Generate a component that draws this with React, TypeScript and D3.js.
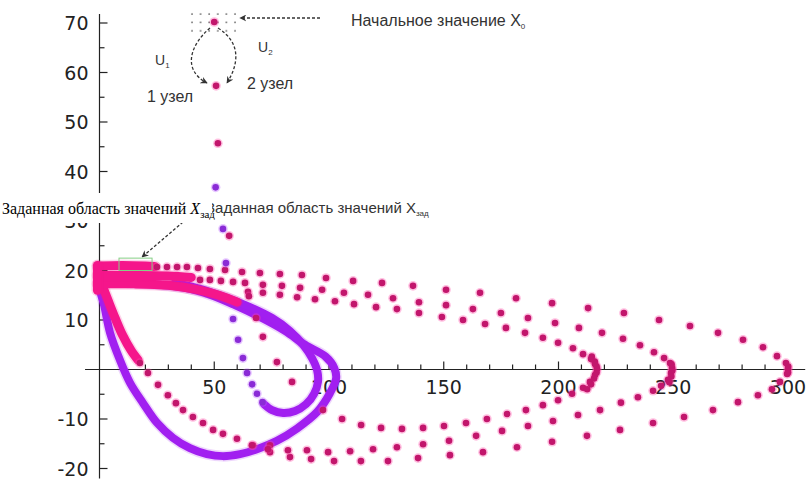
import React from "react";
import * as d3 from "d3";

type P = [number, number];

// ---- axis ticks ----
const xMajorTicks = [50, 100, 150, 200, 250, 300];
const xMinorTicks = [10, 20, 30, 40, 60, 70, 80, 90, 110, 120, 130, 140, 160, 170, 180, 190, 210, 220, 230, 240, 260, 270, 280, 290];
const yMajorTicks = [-20, -10, 10, 20, 30, 40, 50, 60, 70];
const yMinorTicks = [-15, -5, 5, 15, 25, 35, 45, 55, 65];
const xAxisExtent: P = [-6.3, 307.5];
const yAxisExtent: P = [-22, 71.8];

// ---- start value and first node ----
const startPoint: P[] = [[50.0, 70.2]];
const nodePoint: P[] = [[50.8, 57.3]];

// ---- dense limit-cycle bands ----
const outerLoop: P[] = [
  [0.2, 17.7], [13.3, 17.5], [26.4, 17.1], [37.3, 16.5], [48.1, 15.1], [59.0, 13.0], [69.9, 10.6],
  [80.8, 7.8], [89.5, 5.0], [98.5, 2.6], [102.3, 0.3], [103.1, -1.8], [100.4, -4.8], [94.8, -8.6],
  [86.1, -11.9], [77.3, -14.4], [68.6, -16.1], [61.2, -17.1], [53.8, -17.5], [46.8, -17.1],
  [39.4, -15.9], [32.0, -13.8], [25.1, -10.8], [19.0, -6.8], [13.3, -2.7], [8.9, 1.9], [4.6, 7.4],
  [2.0, 13.0], [0.2, 16.1],
];
const innerLoop: P[] = [
  [32.9, 17.5], [43.8, 16.3], [54.7, 14.6], [65.6, 12.6], [75.2, 10.4], [83.0, 7.8], [88.7, 5.0],
  [92.6, 2.3], [94.8, -0.1], [95.2, -2.5], [93.5, -4.9], [90.0, -7.0], [85.2, -8.4], [80.0, -8.8],
  [75.2, -8.2], [71.7, -7.0],
];
const pinkBandTop: P[] = [[-0.8, 20.9], [10, 21.0], [20, 20.9], [24, 20.8]];
const pinkBandMid: P[] = [[-0.8, 19.0], [15, 19.0], [30, 18.9], [40, 18.6]];
const pinkBandLow: P[] = [[-0.8, 17.3], [15, 17.3], [30, 17.0], [42, 16.2], [52, 15.0], [60, 13.6]];
const pinkBandLeft: P[] = [[-0.9, 21.0], [-0.9, 16.0]];
const pinkBandDiag: P[] = [[1.1, 17.1], [3.7, 14.0], [6.8, 10.4], [10.2, 6.8], [13.7, 3.9], [16.8, 1.9]];

// ---- sparse iterations ----
const purpleDots: P[] = [
  [50.6, 36.8], [53.8, 28.4], [55.1, 21.5], [58.2, 10.2], [60.4, 6.0], [62.5, 2.3], [64.3, -0.7],
  [66.5, -3.0], [68.6, -4.9], [71.0, -6.6],
];
const pinkColumn: P[] = [
  [51.6, 45.7], [56.5, 27.0], [65.1, 14.8], [68.2, 10.4], [71.2, 6.6], [77.3, 1.5], [83.9, -2.5],
];
const pinkTurn215: P[] = [
  [97.4, -8.2], [105.7, -10.0], [114.0, -11.2], [122.7, -11.8], [131.8, -12.0], [141.0, -11.8],
  [150.1, -11.4], [159.7, -10.8], [168.8, -10.0], [177.6, -9.0], [185.8, -8.2], [193.2, -7.2],
  [199.8, -6.2], [205.9, -4.9], [210.7, -3.7], [212.5, -4.0], [213.7, -2.5], [214.2, -3.0], [215.5, -1.8],
  [215.9, -1.1], [216.6, -0.6], [216.8, 0.1], [216.6, 0.6], [215.8, 1.6], [215.9, 1.1], [214.5, 2.6],
  [214.2, 2.1], [210.7, 3.1], [206.3, 4.3], [199.8, 5.4], [193.2, 6.4], [185.4, 7.4], [177.1, 8.4],
  [168.0, 9.2], [158.4, 10.0], [149.2, 10.6], [139.2, 11.4], [129.6, 12.2], [120.5, 12.6], [110.9, 13.2],
  [102.6, 13.8], [93.9, 14.2], [86.1, 14.6], [78.6, 15.1], [71.2, 15.5], [64.7, 15.7],
];
const pinkTurn250: P[] = [
  [43.8, 18.1], [48.1, 18.1], [52.9, 17.9], [58.2, 17.7], [63.4, 17.5], [71.2, 17.1], [79.5, 16.9],
  [87.4, 16.5], [97.0, 16.1], [106.5, 15.5], [117.0, 15.1], [127.9, 14.4], [139.2, 13.6], [151.0, 13.0],
  [162.7, 12.2], [174.9, 11.4], [186.7, 10.4], [198.5, 9.4], [208.9, 8.4], [218.95, 7.4], [228.1, 6.2],
  [235.5, 4.9], [241.6, 3.5], [246.0, 2.3], [248.6, 1.3], [249.3, 1.0], [249.5, 0.3], [249.6, -0.2],
  [249.0, -0.7], [249.2, -1.4], [247.7, -2.1], [248.3, -2.6], [244.7, -3.3], [241.2, -4.3], [234.6, -5.6],
  [227.2, -6.7], [218.1, -8.2], [208.5, -9.2], [197.6, -10.4], [186.7, -11.4], [175.4, -12.4],
  [164.1, -13.4], [152.3, -14.4], [141.0, -15.1], [129.6, -15.7], [119.2, -16.1], [109.2, -16.5],
  [99.6, -16.7], [90.4, -16.3], [82.1, -16.3], [74.3, -15.3], [66.9, -15.3],
];
const pinkTurn300: P[] = [
  [25.05, 20.7], [29.4, 20.7], [33.8, 20.7], [38.1, 20.7], [42.9, 20.5], [48.1, 20.3], [54.7, 20.1],
  [62.1, 19.7], [69.9, 19.5], [78.6, 19.3], [88.2, 19.1], [98.7, 18.5], [110.5, 17.9], [123.1, 17.5],
  [136.6, 16.9], [151.0, 16.1], [165.8, 15.5], [181.5, 14.4], [197.2, 13.4], [212.9, 12.4], [228.5, 11.4],
  [243.8, 10.0], [257.3, 8.8], [269.5, 7.4], [280.4, 6.0], [289.1, 4.5], [295.2, 2.7], [299.1, 1.3],
  [300.1, 0.6], [300.0, 0.1], [300.0, -0.6], [299.6, -0.9], [296.5, -2.5], [293.0, -4.0], [286.9, -5.2],
  [278.2, -6.6], [267.3, -8.2], [254.7, -9.6], [241.2, -10.8], [226.8, -12.2], [212.4, -13.4],
  [197.2, -14.6], [181.9, -15.7], [167.1, -16.7], [152.7, -17.3], [138.8, -17.9], [125.7, -18.5],
  [113.9, -18.5], [102.2, -18.5], [92.2, -18.1], [83.0, -17.7], [74.3, -16.7],
];
const pinkDiagDots: P[] = [
  [17.6, 1.3], [21.1, -0.7], [25.5, -3.1], [29.8, -5.2], [33.3, -6.8], [36.4, -8.2], [40.7, -9.6],
  [45.1, -10.8], [49.5, -12.2], [53.8, -13.0], [59.9, -14.0], [66.4, -15.3], [73.4, -16.1],
];

// target region box [x0, y0, x1, y1]
const targetBox = [8.5, 22.5, 22.9, 20.0];

const PINK_BAND = "#f5168b";
const PURPLE_BAND = "#a11ff0";
const PINK_CORE = "#c2166c";
const PINK_HALO = "#ff48a6";
const PURPLE_CORE = "#8a2bd6";
const PURPLE_HALO = "#b65cff";

export default function App() {
  const x = d3.scaleLinear().domain([0, 300]).range([99.5, 788]);
  const y = d3.scaleLinear().domain([0, 70]).range([369.5, 23]);
  const open = d3.line<P>().x((d) => x(d[0])).y((d) => y(d[1])).curve(d3.curveCatmullRom.alpha(0.5));
  const closed = d3.line<P>().x((d) => x(d[0])).y((d) => y(d[1])).curve(d3.curveCatmullRomClosed.alpha(0.5));

  const band = (d: string | null, color: string, w: number, key: string) => (
    <g key={key}>
      <path d={d ?? ""} fill="none" stroke={color} strokeOpacity={0.18} strokeWidth={w + 3} strokeLinecap="round" strokeLinejoin="round" />
      <path d={d ?? ""} fill="none" stroke={color} strokeWidth={w} strokeLinecap="round" strokeLinejoin="round" />
    </g>
  );

  const dots = (pts: P[], core: string, halo: string, key: string) => (
    <g key={key}>
      {pts.map((p, i) => (
        <circle key={"h" + i} cx={x(p[0])} cy={y(p[1])} r={4.8} fill={halo} fillOpacity={0.35} />
      ))}
      {pts.map((p, i) => (
        <circle key={"c" + i} cx={x(p[0])} cy={y(p[1])} r={3.3} fill={core} />
      ))}
    </g>
  );

  const tickFont = { fontFamily: "DejaVu Sans", fontSize: 19, fill: "#222" };
  const noteFont = { fontFamily: "Liberation Sans", fontSize: 16, fill: "#333" };

  return (
    <svg width={810} height={483} style={{ position: "absolute", left: 0, top: 0, background: "#fff" }}>
      <defs>
        <pattern id="dotgrid" width={8.6} height={8.4} patternUnits="userSpaceOnUse" x={190} y={12}>
          <circle cx={2} cy={2} r={0.8} fill="#555" />
        </pattern>
        <marker id="ah" viewBox="0 0 10 10" refX={9} refY={5} markerWidth={7} markerHeight={7} orient="auto-start-reverse" markerUnits="userSpaceOnUse">
          <path d="M0,0 L10,5 L0,10 L3,5 Z" fill="#333" />
        </marker>
      </defs>
      <rect width={810} height={483} fill="#fff" />

      {/* axes */}
      <g stroke="#222" strokeWidth={1.2}>
        <line x1={x(xAxisExtent[0])} x2={x(xAxisExtent[1])} y1={y(0)} y2={y(0)} />
        <line x1={x(0)} x2={x(0)} y1={y(yAxisExtent[0])} y2={y(yAxisExtent[1])} />
        {xMajorTicks.map((t) => <line key={"xM" + t} x1={x(t)} x2={x(t)} y1={y(0)} y2={y(0) - 8} />)}
        {xMinorTicks.map((t) => <line key={"xm" + t} x1={x(t)} x2={x(t)} y1={y(0)} y2={y(0) - 5} />)}
        {yMajorTicks.map((t) => <line key={"yM" + t} x1={x(0)} x2={x(0) + 8} y1={y(t)} y2={y(t)} />)}
        {yMinorTicks.map((t) => <line key={"ym" + t} x1={x(0)} x2={x(0) + 5} y1={y(t)} y2={y(t)} />)}
      </g>
      <g {...tickFont}>
        {xMajorTicks.map((t) => (
          <text key={"xl" + t} x={x(t)} y={y(0) + 24} textAnchor="middle">{t}</text>
        ))}
        {yMajorTicks.map((t) => (
          <text key={"yl" + t} x={x(0) - 11} y={y(t)} textAnchor="end" dominantBaseline="central">{t}</text>
        ))}
      </g>

      {/* limit cycles */}
      {band(closed(outerLoop), PURPLE_BAND, 8, "outer")}
      {band(open(innerLoop), PURPLE_BAND, 8, "inner")}
      {band(open(pinkBandDiag), PINK_BAND, 9, "pd")}
      {band(open(pinkBandLow), PINK_BAND, 9, "pl")}
      {band(open(pinkBandMid), PINK_BAND, 9, "pm")}
      {band(open(pinkBandTop), PINK_BAND, 9, "pt")}
      {band(open(pinkBandLeft), PINK_BAND, 9, "pL")}

      {/* iterations */}
      {dots(pinkTurn300, PINK_CORE, PINK_HALO, "t300")}
      {dots(pinkTurn250, PINK_CORE, PINK_HALO, "t250")}
      {dots(pinkTurn215, PINK_CORE, PINK_HALO, "t215")}
      {dots(pinkDiagDots, PINK_CORE, PINK_HALO, "diag")}
      {dots(pinkColumn, PINK_CORE, PINK_HALO, "col")}
      {dots(purpleDots, PURPLE_CORE, PURPLE_HALO, "pur")}
      {dots(nodePoint, PINK_CORE, PINK_HALO, "node")}

      {/* start value marker */}
      <rect x={189} y={11} width={47} height={22} fill="url(#dotgrid)" />
      {dots(startPoint, PINK_CORE, PINK_HALO, "start")}

      {/* annotations */}
      <g fill="none" stroke="#333" strokeWidth={1.3} strokeDasharray="3,2">
        <line x1={320} y1={18} x2={240} y2={18} markerEnd="url(#ah)" />
        <path d="M210,28 C190,45 182,70 207,83" markerEnd="url(#ah)" />
        <path d="M218,28 C240,42 240,62 227,83" markerEnd="url(#ah)" />
        <line x1={183} y1={222} x2={142} y2={257} markerEnd="url(#ah)" />
      </g>
      <rect x={x(targetBox[0])} y={y(targetBox[1])} width={x(targetBox[2]) - x(targetBox[0])} height={y(targetBox[3]) - y(targetBox[1])} fill="none" stroke="#86cf86" strokeWidth={1} />

      <text x={351} y={26} {...noteFont}>
        Начальное значение X<tspan fontSize={8} dy={3}>0</tspan>
      </text>
      <text x={155} y={65} {...noteFont} fontSize={14}>
        U<tspan fontSize={8} dy={3}>1</tspan>
      </text>
      <text x={258} y={52} {...noteFont} fontSize={14}>
        U<tspan fontSize={8} dy={3}>2</tspan>
      </text>
      <text x={147} y={102} {...noteFont}>1 узел</text>
      <text x={247} y={89} {...noteFont}>2 узел</text>

      <text x={206} y={213} {...noteFont} fontSize={15}>
        Заданная область значений X<tspan fontSize={8} dy={3}>зад</tspan>
      </text>
      <rect x={0} y={193} width={212} height={30} fill="#fff" />
      <text x={2} y={214} fontFamily="Liberation Serif" fontSize={16} fill="#000">
        Заданная область значений <tspan fontStyle="italic">X</tspan>
        <tspan fontSize={11} dy={4}>зад</tspan>
      </text>
    </svg>
  );
}
